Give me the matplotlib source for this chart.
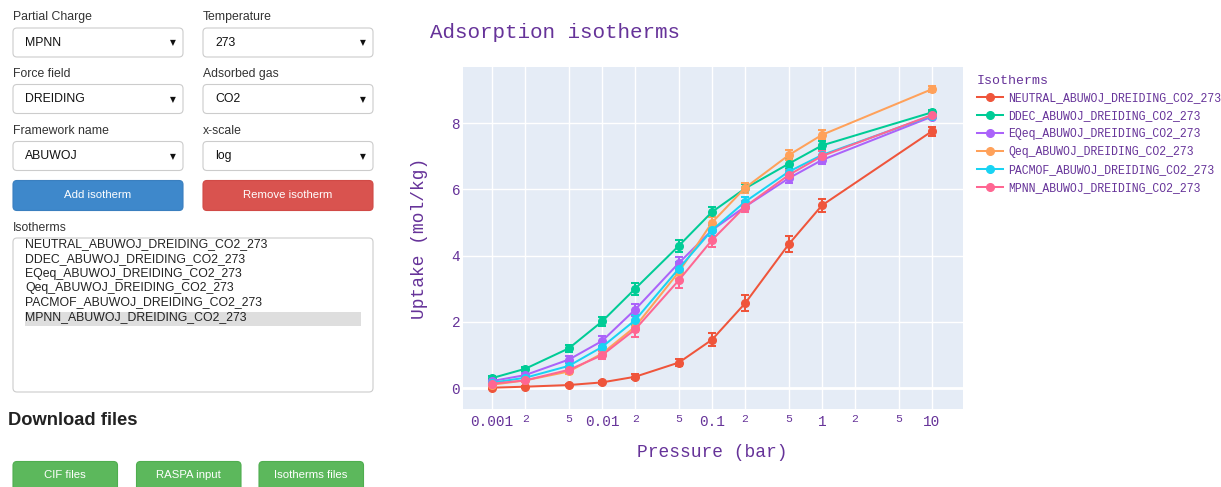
import matplotlib
matplotlib.use("Agg")
import matplotlib.pyplot as plt
from matplotlib.patches import FancyBboxPatch, Rectangle
from matplotlib.lines import Line2D

# ---------------- data ----------------
pressure = [0.001, 0.002, 0.005, 0.01, 0.02, 0.05, 0.1, 0.2, 0.5, 1, 10]

series_names = [
    "NEUTRAL_ABUWOJ_DREIDING_CO2_273",
    "DDEC_ABUWOJ_DREIDING_CO2_273",
    "EQeq_ABUWOJ_DREIDING_CO2_273",
    "Qeq_ABUWOJ_DREIDING_CO2_273",
    "PACMOF_ABUWOJ_DREIDING_CO2_273",
    "MPNN_ABUWOJ_DREIDING_CO2_273",
]
series_colors = ["#EF553B", "#00CC96", "#AB63FA", "#FFA15A", "#19D3F3", "#FF6692"]

neutral = [0.01, 0.04, 0.09, 0.17, 0.34, 0.77, 1.46, 2.56, 4.35, 5.52, 7.76]
ddec    = [0.30, 0.58, 1.20, 2.01, 3.00, 4.30, 5.32, 6.03, 6.78, 7.33, 8.33]
eqeq    = [0.21, 0.39, 0.86, 1.42, 2.37, 3.78, 4.77, 5.48, 6.34, 6.89, 8.20]
qeq     = [0.10, 0.23, 0.50, 1.04, 1.85, 3.51, 5.00, 6.05, 7.04, 7.65, 9.03]
pacmof  = [0.16, 0.31, 0.67, 1.24, 2.05, 3.61, 4.77, 5.63, 6.54, 7.04, 8.23]
mpnn    = [0.13, 0.23, 0.55, 0.99, 1.77, 3.26, 4.47, 5.48, 6.44, 7.01, 8.25]

neutral_err = [0.03, 0.03, 0.04, 0.05, 0.07, 0.11, 0.20, 0.24, 0.24, 0.20, 0.14]
ddec_err    = [0.05, 0.07, 0.11, 0.15, 0.18, 0.18, 0.15, 0.13, 0.13, 0.12, 0.08]
eqeq_err    = [0.04, 0.06, 0.10, 0.14, 0.18, 0.19, 0.17, 0.15, 0.14, 0.12, 0.08]
qeq_err     = [0.03, 0.05, 0.07, 0.11, 0.16, 0.21, 0.18, 0.16, 0.16, 0.14, 0.10]
pacmof_err  = [0.04, 0.05, 0.08, 0.12, 0.16, 0.19, 0.17, 0.15, 0.14, 0.12, 0.08]
mpnn_err    = [0.04, 0.05, 0.08, 0.12, 0.24, 0.25, 0.22, 0.17, 0.16, 0.14, 0.10]

uptakes = [neutral, ddec, eqeq, qeq, pacmof, mpnn]
errors = [neutral_err, ddec_err, eqeq_err, qeq_err, pacmof_err, mpnn_err]

major_ticks = [0.001, 0.01, 0.1, 1, 10]
major_labels = ["0.001", "0.01", "0.1", "1", "10"]
minor_ticks = [0.002, 0.005, 0.02, 0.05, 0.2, 0.5, 2, 5]
minor_labels = ["2", "5", "2", "5", "2", "5", "2", "5"]
y_ticks = [0, 2, 4, 6, 8]

# UI text
dropdown_labels = ["Partial Charge", "Temperature", "Force field", "Adsorbed gas",
                   "Framework name", "x-scale"]
dropdown_values = ["MPNN", "273", "DREIDING", "CO2", "ABUWOJ", "log"]
download_buttons = ["CIF files", "RASPA input", "Isotherms files"]

# ---------------- figure ----------------
W, H = 1221, 487
fig = plt.figure(figsize=(W / 100, H / 100), dpi=100)
fig.patch.set_facecolor("white")

PURPLE = "#663399"
MONO = "Liberation Mono"
SANS = "Liberation Sans"

# UI overlay axes in pixel coordinates
ui = fig.add_axes([0, 0, 1, 1])
ui.set_xlim(0, W)
ui.set_ylim(H, 0)
ui.axis("off")
ui.set_zorder(0)


def rbox(x, y, w, h, fc, ec, lw=0.8, r=4):
    p = FancyBboxPatch((x, y), w, h, boxstyle=f"round,pad=0,rounding_size={r}",
                       fc=fc, ec=ec, lw=lw)
    ui.add_patch(p)


col_x = [13, 203]
row_box_y = [28, 84.5, 141.5]
row_lab_y = [17, 74, 131]
k = 0
for r in range(3):
    for c in range(2):
        x0 = col_x[c]
        ui.text(x0, row_lab_y[r], dropdown_labels[k], fontsize=8.8, family=SANS,
                color="#333333", ha="left", va="center")
        rbox(x0, row_box_y[r], 170, 29, "white", "#cccccc")
        ui.text(x0 + 12, row_box_y[r] + 14.5, dropdown_values[k], fontsize=8.8,
                family=SANS, color="#111111", ha="left", va="center")
        ui.text(x0 + 159.5, row_box_y[r] + 15, "▼", fontsize=5.5, family="DejaVu Sans",
                color="#111111", ha="center", va="center")
        k += 1

rbox(13, 180.5, 170, 30, "#3E88CB", "#3A7FBF")
ui.text(98, 195.5, "Add isotherm", fontsize=8.2, family=SANS, color="white",
        ha="center", va="center")
rbox(203, 180.5, 170, 30, "#D9534F", "#D14A46")
ui.text(288, 195.5, "Remove isotherm", fontsize=8.2, family=SANS, color="white",
        ha="center", va="center")

ui.text(13, 228, "Isotherms", fontsize=8.8, family=SANS, color="#333333",
        ha="left", va="center")
rbox(13, 238, 360, 154, "white", "#cccccc")
ui.add_patch(Rectangle((25, 311.5), 336, 14.5, fc="#DEDEDE", ec="none"))
item_y = [244.5, 259, 273.5, 288, 302.5, 317.5]
for name, yy in zip(series_names, item_y):
    ui.text(25, yy, name, fontsize=8.8, family=SANS, color="#222222",
            ha="left", va="center")

ui.text(8, 420.5, "Download files", fontsize=13.2, family=SANS, weight="bold",
        color="#222222", ha="left", va="center")
btn_x = [13, 136.5, 259]
for bx, bt in zip(btn_x, download_buttons):
    rbox(bx, 461.5, 104.5, 40, "#5CB85C", "#4FAE4F")
    ui.text(bx + 52, 475, bt, fontsize=8.2, family=SANS, color="white",
            ha="center", va="center")

# ---------------- chart ----------------
ax = fig.add_axes([463 / W, 1 - 409 / H, 500 / W, 342 / H])
ax.set_zorder(1)
ax.set_facecolor("#E5ECF6")
for s in ax.spines.values():
    s.set_visible(False)
ax.set_xscale("log")
ax.set_xlim(10 ** -3.264, 10 ** 1.282)
ax.set_ylim(-0.634, 9.70)

ax.set_xticks(major_ticks, major_labels)
ax.set_xticks(minor_ticks, minor_labels, minor=True)
ax.set_yticks(y_ticks, [str(v) for v in y_ticks])
ax.tick_params(axis="x", which="major", length=0, pad=4.5, labelsize=10.4,
               labelcolor=PURPLE)
ax.tick_params(axis="x", which="minor", length=0, pad=3.5, labelsize=8.2,
               labelcolor=PURPLE)
ax.tick_params(axis="y", length=0, pad=2, labelsize=10.4, labelcolor=PURPLE)
for lab in ax.get_xticklabels(which="both") + ax.get_yticklabels():
    lab.set_family(MONO)

ax.grid(True, which="both", axis="x", color="white", lw=1.0)
ax.grid(True, which="major", axis="y", color="white", lw=1.0)
ax.axhline(0, color="white", lw=2.0, zorder=1.5)
ax.set_axisbelow(True)

handles = []
for name, col, yv, ev in zip(series_names, series_colors, uptakes, errors):
    ax.errorbar(pressure, yv, yerr=ev, color=col, ecolor=col, marker="o", ms=5.5,
                lw=1.45, elinewidth=1.45, capsize=2.9, capthick=1.45, zorder=3)
    handles.append(Line2D([], [], color=col, marker="o", ms=5.5, lw=1.45))

ax.text(0.498, -0.126, "Pressure (bar)", transform=ax.transAxes, ha="center",
        va="center", fontsize=12.9, family=MONO, color=PURPLE)
ax.text(-0.086, 0.5, "Uptake (mol/kg)", transform=ax.transAxes, ha="center",
        va="center", rotation=90, fontsize=12.9, family=MONO, color=PURPLE)

fig.text(430 / W, 1 - 32 / H, "Adsorption isotherms", ha="left", va="center",
         fontsize=15, family=MONO, color=PURPLE)

leg = fig.legend(handles, series_names, loc="upper left",
                 bbox_to_anchor=(976.5 / W, 1 - 74.5 / H), bbox_transform=fig.transFigure,
                 frameon=False, borderpad=0, borderaxespad=0, handlelength=2.3,
                 handletextpad=0.45, labelspacing=0.52, title="Isotherms",
                 alignment="left",
                 prop={"family": MONO, "size": 8.3},
                 title_fontproperties={"family": MONO, "size": 9.5})
leg.get_title().set_color(PURPLE)
for t in leg.get_texts():
    t.set_color(PURPLE)

fig.savefig("out.png", dpi=100)
